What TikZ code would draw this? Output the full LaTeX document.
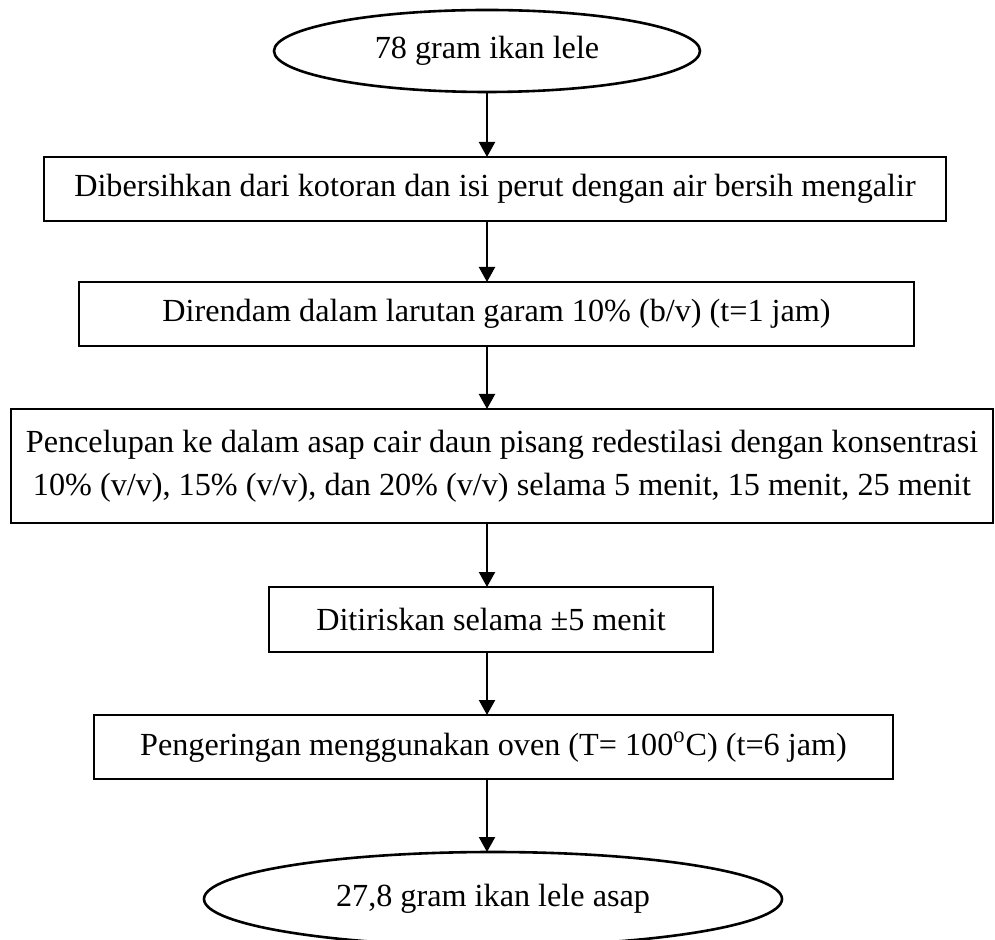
\documentclass[tikz,border=0pt]{standalone}
\usepackage{fontspec}
\setmainfont{Liberation Serif}
\usetikzlibrary{shapes.geometric,arrows.meta}
\begin{document}
\begin{tikzpicture}[x=0.5pt,y=-0.5pt,
  every node/.style={font=\fontsize{16.1pt}{21.5pt}\selectfont, inner sep=0pt, outer sep=0pt},
  procbox/.style={draw, line width=1.45pt, rectangle, align=center},
  endpoint/.style={draw, line width=1.3pt, ellipse},
  arr/.style={line width=1.1pt, -{Triangle[length=7.5pt,width=8pt]}}]
\useasboundingbox (0,0) rectangle (995,940);
\begin{scope}
\clip (0,0) rectangle (995,940);
\node[endpoint, minimum width=426pt*0.5, minimum height=82pt*0.5] (e1) at (487,51) {78 gram ikan lele};
\node[procbox, minimum width=902pt*0.5, minimum height=64pt*0.5] (b1) at (495,189) {Dibersihkan dari kotoran dan isi perut dengan air bersih mengalir};
\node[procbox, minimum width=835pt*0.5, minimum height=64pt*0.5] (b2) at (496.5,314) {Direndam dalam larutan garam 10\% (b/v) (t=1 jam)};
\node[procbox, minimum width=982pt*0.5, minimum height=114pt*0.5] (b3) at (502,466) {Pencelupan ke dalam asap cair daun pisang redestilasi dengan konsentrasi\\10\% (v/v), 15\% (v/v), dan 20\% (v/v) selama 5 menit, 15 menit, 25 menit};
\node[procbox, minimum width=444pt*0.5, minimum height=65pt*0.5] (b4) at (491,619.5) {Ditiriskan selama ±5 menit};
\node[procbox, minimum width=799pt*0.5, minimum height=64pt*0.5] (b5) at (493.5,747) {Pengeringan menggunakan oven (T= 100\textsuperscript{o}C) (t=6 jam)};
\node[endpoint, minimum width=578pt*0.5, minimum height=94pt*0.5] (e2) at (493,899) {27,8 gram ikan lele asap};
\end{scope}
\coordinate (col) at (487,0);
\draw[arr] (e1.south) -- (b1.north -| col);
\draw[arr] (b1.south -| col) -- (b2.north -| col);
\draw[arr] (b2.south -| col) -- (b3.north -| col);
\draw[arr] (b3.south -| col) -- (b4.north -| col);
\draw[arr] (b4.south -| col) -- (b5.north -| col);
\draw[arr] (b5.south -| col) -- (e2.north -| col);
\end{tikzpicture}
\end{document}
